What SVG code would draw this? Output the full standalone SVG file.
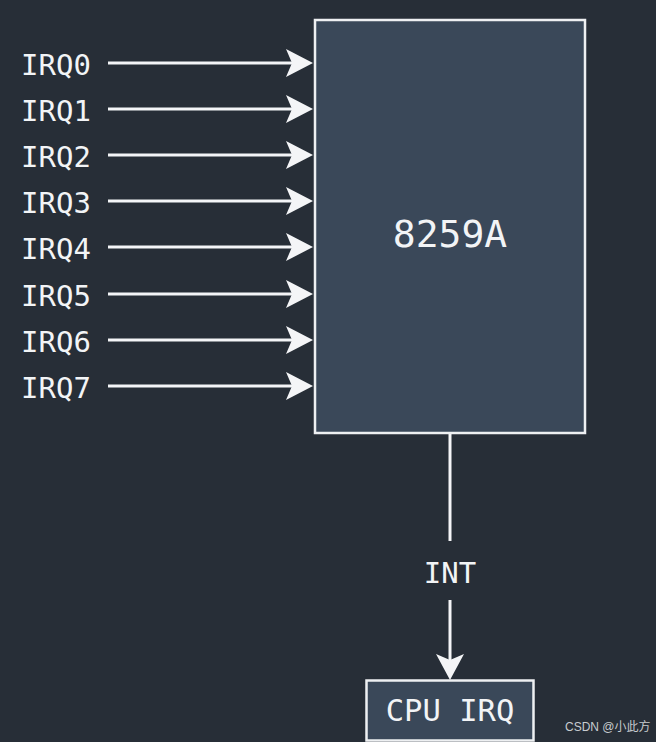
<svg xmlns="http://www.w3.org/2000/svg" width="656" height="742" viewBox="0 0 656 742">
<style>
.lbl{font-family:"DejaVu Sans Mono","Liberation Mono",monospace;fill:#f2f4f6;font-size:29px}
.ln{stroke:#f4f5f7;stroke-width:3;fill:none}
.ah{fill:#f4f5f7}
.box{fill:#3a4859;stroke:#eef0f2;stroke-width:2.5}
</style>
<rect width="656" height="742" fill="#272e37"/>
<g id="chip">
<rect class="box" x="315" y="20" width="270" height="413"/>
<text class="lbl" x="450" y="247" text-anchor="middle" style="font-size:38px">8259A</text>
</g>
<g id="cpu">
<rect class="box" x="366.5" y="680.5" width="167" height="60"/>
<text class="lbl" x="450" y="721" text-anchor="middle" style="font-size:30.5px">CPU IRQ</text>
</g>
<g id="labels">
<text class="lbl" x="21" y="75">IRQ0</text>
<text class="lbl" x="21" y="121">IRQ1</text>
<text class="lbl" x="21" y="167">IRQ2</text>
<text class="lbl" x="21" y="213">IRQ3</text>
<text class="lbl" x="21" y="259">IRQ4</text>
<text class="lbl" x="21" y="306">IRQ5</text>
<text class="lbl" x="21" y="352">IRQ6</text>
<text class="lbl" x="21" y="398">IRQ7</text>
</g>
<g id="connectors">
<g>
<line class="ln" x1="108" y1="63" x2="292" y2="63"/><path class="ah" d="M286,49 L313,63 L286,77 L292,63 Z"/>
<line class="ln" x1="108" y1="109" x2="292" y2="109"/><path class="ah" d="M286,95 L313,109 L286,123 L292,109 Z"/>
<line class="ln" x1="108" y1="155" x2="292" y2="155"/><path class="ah" d="M286,141 L313,155 L286,169 L292,155 Z"/>
<line class="ln" x1="108" y1="201" x2="292" y2="201"/><path class="ah" d="M286,187 L313,201 L286,215 L292,201 Z"/>
<line class="ln" x1="108" y1="247" x2="292" y2="247"/><path class="ah" d="M286,233 L313,247 L286,261 L292,247 Z"/>
<line class="ln" x1="108" y1="294" x2="292" y2="294"/><path class="ah" d="M286,280 L313,294 L286,308 L292,294 Z"/>
<line class="ln" x1="108" y1="340" x2="292" y2="340"/><path class="ah" d="M286,326 L313,340 L286,354 L292,340 Z"/>
<line class="ln" x1="108" y1="386" x2="292" y2="386"/><path class="ah" d="M286,372 L313,386 L286,400 L292,386 Z"/>
</g>
<line class="ln" x1="450" y1="434" x2="450" y2="541"/>
<line class="ln" x1="450" y1="600" x2="450" y2="662"/>
<path class="ah" d="M436,654 L450,680 L464,654 L450,660 Z"/>
<text class="lbl" x="450" y="583" text-anchor="middle">INT</text>
</g>
<text x="565" y="731" style="font-family:'Liberation Sans','Noto Sans CJK SC',sans-serif;font-size:12px;fill:#c8ccd0">CSDN @小此方</text>
</svg>
